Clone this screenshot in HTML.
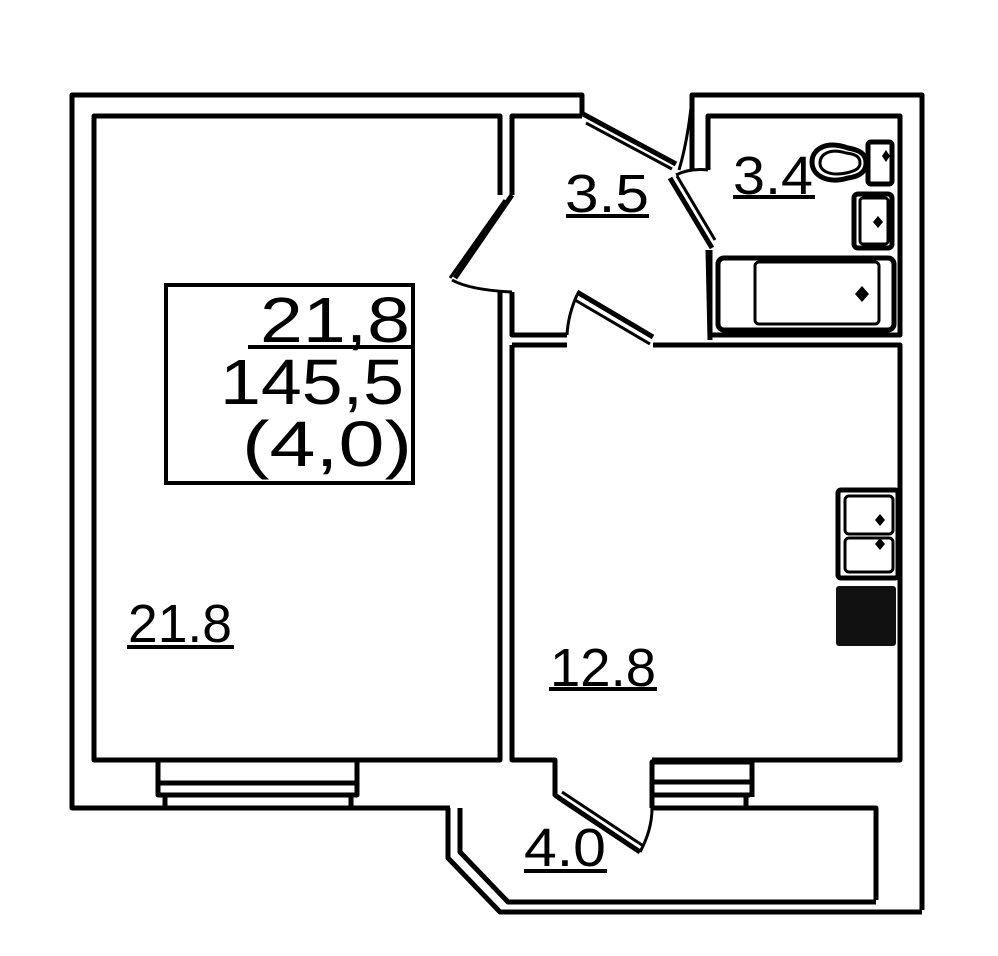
<!DOCTYPE html>
<html><head><meta charset="utf-8"><style>
html,body{margin:0;padding:0;background:#fff;}
svg{display:block;}
text{font-family:"Liberation Sans",sans-serif;}
</style></head><body>
<svg width="998" height="956" viewBox="0 0 998 956" xmlns="http://www.w3.org/2000/svg">
<g fill="none" stroke="#000" stroke-width="5" stroke-linejoin="round">
<polyline points="582,115 582,95 72,95 72,808 450,808"/>
<polyline points="500,195 500,116 94,116 94,760 500,760 500,292"/>
<polyline points="158,762 158,795 357,795 357,762"/>
<line x1="160" y1="783" x2="355" y2="783"/>
<line x1="165" y1="797" x2="165" y2="808"/>
<line x1="351" y1="797" x2="351" y2="808"/>
<polyline points="512,195 512,116 582,116"/>
<polyline points="583,114 676,164"/>
<polyline points="586,123 672,169" stroke-width="3"/>
<polyline points="512,195 455,278" />
<polyline points="505,200 450,278" stroke-width="3"/>
<path d="M452,280 Q470,290 512,292" stroke-width="3"/>
<polyline points="512,292 512,335 567,335"/>
<path d="M577,295 Q568,315 567,335" stroke-width="3"/>
<polyline points="577,292 653,337"/>
<polyline points="575,300 650,344" stroke-width="3"/>
<polyline points="692,170 692,95 922,95 922,910"/>
<polyline points="708,170 708,116 900,116 900,335 710,335 710,250"/>
<line x1="708" y1="250" x2="710" y2="340"/>
<polyline points="670,178 712,248"/>
<polyline points="677,176 715,240" stroke-width="3"/>
<path d="M679,170 Q688,140 692,98" stroke-width="3"/>
<path d="M676,175 Q690,168 708,170" stroke-width="3"/>
<path d="M848,148 C825,140 812,150 812,162 C812,176 828,184 848,178 C862,176 866,170 866,163 C866,154 860,150 848,148 Z"/>
<path d="M846,153 C830,148 820,154 820,163 C820,172 832,176 846,173 C856,171 860,168 860,163 C860,157 856,154 846,153 Z" stroke-width="3"/>
<rect x="868" y="142" width="24" height="42" rx="3"/>
<rect x="854" y="194" width="38" height="54" rx="4"/>
<rect x="860" y="198" width="28" height="46" rx="3" stroke-width="3"/>
<rect x="718" y="258" width="176" height="72" rx="6"/>
<rect x="755" y="262" width="124" height="62" rx="4" stroke-width="3"/>
<polyline points="653,345 900,345 900,760 652,760"/>
<polyline points="512,345 567,345"/>
<polyline points="512,345 512,760 555,760 555,795 562,800"/>
<polyline points="562,800 640,852"/>
<polyline points="562,792 642,845" stroke-width="3"/>
<path d="M640,852 Q652,830 652,808" stroke-width="3"/>
<polyline points="652,808 652,762 752,762 752,797"/>
<line x1="654" y1="782" x2="750" y2="782"/>
<line x1="654" y1="795" x2="750" y2="795"/>
<line x1="746" y1="797" x2="746" y2="808"/>
<polyline points="652,808 876,808 876,900"/>
<polyline points="448,808 448,858 500,912 922,912"/>
<polyline points="460,808 460,852 508,902 876,902"/>
<rect x="838" y="490" width="60" height="88" rx="3"/>
<rect x="845" y="496" width="48" height="38" rx="4" stroke-width="3"/>
<rect x="845" y="538" width="48" height="34" rx="4" stroke-width="3"/>
</g>
<rect x="836" y="586" width="60" height="60" rx="3" fill="#111"/>
<g fill="#000">
<path d="M886,150 l4,6 l-4,6 l-4,-6z"/>
<path d="M878,216 l5,6 l-5,6 l-5,-6z"/>
<path d="M862,286 l7,8 l-7,8 l-7,-8z"/>
<path d="M880,514 l5,6 l-5,6 l-5,-6z"/>
<path d="M880,538 l5,6 l-5,6 l-5,-6z"/>
</g>
<g fill="none" stroke="#000" stroke-width="4">
<rect x="166" y="285" width="247" height="198"/>
<line x1="248" y1="347" x2="413" y2="347"/>
</g>
<g fill="#000" font-size="64" text-anchor="end">
<text x="410" y="342" textLength="150" lengthAdjust="spacingAndGlyphs">21,8</text>
<text x="404" y="404" textLength="184" lengthAdjust="spacingAndGlyphs">145,5</text>
<text x="412" y="466" textLength="170" lengthAdjust="spacingAndGlyphs">(4,0)</text>
</g>
<g fill="#000" font-size="54" text-anchor="middle">
<text x="180" y="642" textLength="104" lengthAdjust="spacingAndGlyphs">21.8</text>
<text x="603" y="686" textLength="106" lengthAdjust="spacingAndGlyphs">12.8</text>
<text x="607" y="212" textLength="84" lengthAdjust="spacingAndGlyphs">3.5</text>
<text x="773" y="194" textLength="80" lengthAdjust="spacingAndGlyphs">3.4</text>
<text x="565" y="866" textLength="82" lengthAdjust="spacingAndGlyphs">4.0</text>
</g>
<g stroke="#000" stroke-width="4">
<line x1="127" y1="647" x2="234" y2="647"/>
<line x1="549" y1="689" x2="657" y2="689"/>
<line x1="566" y1="216" x2="649" y2="216"/>
<line x1="733" y1="197" x2="815" y2="197"/>
<line x1="524" y1="871" x2="607" y2="871"/>
</g>
</svg>
</body></html>
